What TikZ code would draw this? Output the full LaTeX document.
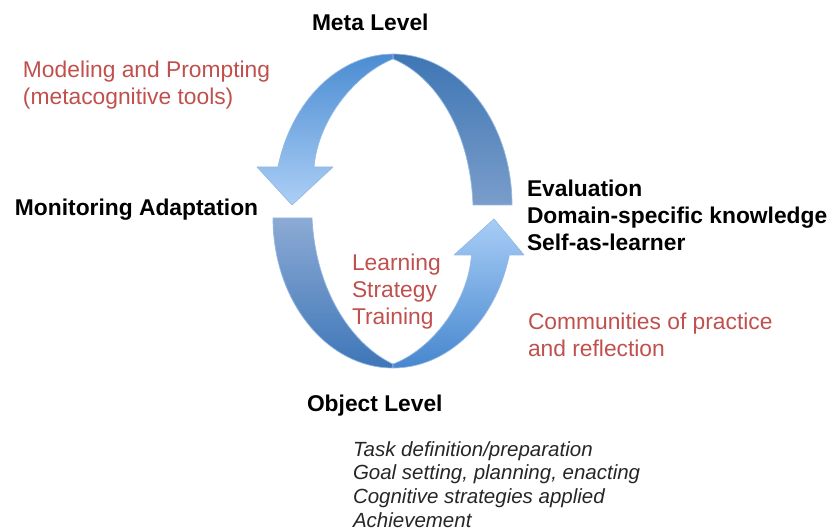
\documentclass[tikz,border=0pt]{standalone}
\usepackage{fontspec}
\setmainfont{Liberation Sans}
\definecolor{redtxt}{RGB}{192,80,77}
\definecolor{edgeblue}{RGB}{150,185,228}
\definecolor{tlTop}{RGB}{75,140,210}
\definecolor{tlBot}{RGB}{172,207,246}
\definecolor{trTop}{RGB}{62,118,180}
\definecolor{trBot}{RGB}{122,157,202}
\definecolor{blTop}{RGB}{140,170,212}
\definecolor{blBot}{RGB}{62,118,184}
\definecolor{brTop}{RGB}{168,205,246}
\definecolor{brBot}{RGB}{70,135,206}
\begin{document}
\begin{tikzpicture}[x=1pt,y=1pt,
  arrowpart/.style={draw=edgeblue, line width=0.7pt, line join=round},
  lbl/.style={anchor=base west, inner sep=0pt, outer sep=0pt},
  boldtxt/.style={lbl, font=\fontsize{22.8}{27}\selectfont\bfseries, text=black},
  redlbl/.style={lbl, font=\fontsize{22.8}{27}\selectfont, text=redtxt},
  itemtxt/.style={lbl, font=\fontsize{20.5}{24}\selectfont\itshape, text=black!85}]
\useasboundingbox (0,0) rectangle (831,531);
% top arrow, right half (shaft end)
\path[arrowpart, top color=trTop, bottom color=trBot]
  (512,326) arc[start angle=0, end angle=90, x radius=119, y radius=151]
  -- (393,472) .. controls (431,457) and (470,406) .. (473,326) -- cycle;
% top arrow, left half with head
\path[arrowpart, top color=tlTop, bottom color=tlBot]
  (393,472) .. controls (355,457) and (318,411) .. (314,364)
  -- (333,364) -- (292,326) -- (257,364) -- (277.97,364)
  arc[start angle=165.4, end angle=90, x radius=119, y radius=151] -- cycle;
% bottom arrow, left half (shaft end)
\path[arrowpart, top color=blTop, bottom color=blBot]
  (273,313) arc[start angle=180, end angle=270, x radius=120, y radius=150]
  -- (393,167) .. controls (356,184) and (316,235) .. (312,313) -- cycle;
% bottom arrow, right half with head
\path[arrowpart, top color=brTop, bottom color=brBot]
  (393,163) arc[start angle=270, end angle=345.72, x radius=120, y radius=150]
  -- (524,276) -- (494,312) -- (454,276) -- (471.5,276)
  .. controls (468,228) and (431,181) .. (393,167) -- cycle;
% texts
\node[boldtxt] (meta) at (312,500) {Meta Level};
\node[redlbl] (model1) at (23,453) {Modeling and Prompting};
\node[redlbl] (model2) at (23,426) {(metacognitive tools)};
\node[boldtxt] (monit) at (15,315) {Monitoring Adaptation};
\node[boldtxt] (eval1) at (527,334) {Evaluation};
\node[boldtxt] (eval2) at (527,307) {Domain-specific knowledge};
\node[boldtxt] (eval3) at (527,280) {Self-as-learner};
\node[redlbl] (learn1) at (352,260) {Learning};
\node[redlbl] (learn2) at (352,233) {Strategy};
\node[redlbl] (learn3) at (352,206) {Training};
\node[redlbl] (comm1) at (528,201) {Communities of practice};
\node[redlbl] (comm2) at (528,174) {and reflection};
\node[boldtxt] (obj) at (307,120) {Object Level};
\node[itemtxt] (it1) at (353,75) {Task definition/preparation};
\node[itemtxt] (it2) at (353,51.3) {Goal setting, planning, enacting};
\node[itemtxt] (it3) at (353,27.6) {Cognitive strategies applied};
\node[itemtxt] (it4) at (353,3.9) {Achievement};
\end{tikzpicture}
\end{document}
